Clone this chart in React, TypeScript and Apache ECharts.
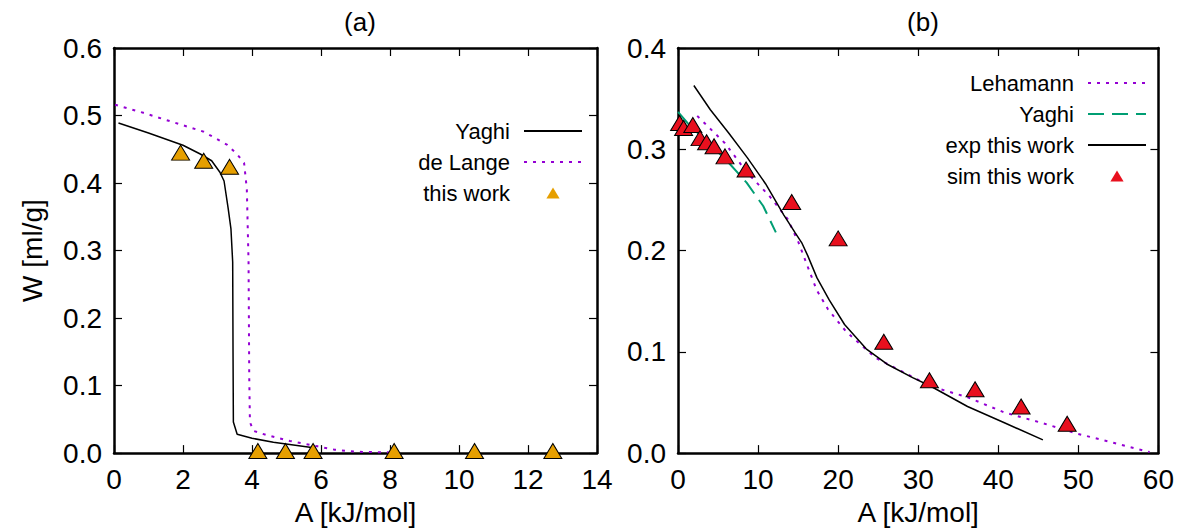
import React, { useEffect, useRef } from 'react';
import * as echarts from 'echarts';

// ---------- Panel (a) data ----------
const thisWorkA = [1.93, 2.6, 3.35, 4.17, 4.97, 5.77, 8.12, 10.45, 12.72];
const thisWorkW = [0.445, 0.433, 0.424, 0.003, 0.003, 0.003, 0.003, 0.003, 0.003];

const yaghiA = [0.13, 1.0, 2.0, 2.5, 2.83, 3.07, 3.19, 3.31, 3.39, 3.44, 3.45, 3.46, 3.57, 4.0, 4.62, 5.2, 5.78];
const yaghiW = [0.489, 0.474, 0.456, 0.443, 0.433, 0.416, 0.403, 0.362, 0.332, 0.283, 0.15, 0.046, 0.028, 0.022, 0.016, 0.012, 0.008];

const deLangeA = [0.03, 0.85, 1.91, 2.6, 3.27, 3.56, 3.77, 3.85, 3.9, 3.92, 3.94, 4.04, 4.4, 5.1, 5.9, 6.4, 7.0, 8.0];
const deLangeW = [0.516, 0.504, 0.487, 0.476, 0.457, 0.443, 0.43, 0.391, 0.283, 0.112, 0.046, 0.033, 0.027, 0.018, 0.01, 0.005, 0.002, 0.001];

// ---------- Panel (b) data ----------
const simA = [0.2, 0.7, 1.85, 2.75, 3.57, 4.5, 5.87, 8.5, 14.2, 20.0, 25.7, 31.4, 37.1, 42.85, 48.6];
const simW = [0.326, 0.321, 0.324, 0.311, 0.307, 0.303, 0.293, 0.28, 0.248, 0.212, 0.11, 0.072, 0.063, 0.046, 0.029];

const expA = [1.98, 4.04, 6.33, 8.63, 10.93, 13.22, 14.6, 15.5, 16.2, 17.36, 18.9, 20.8, 23.5, 26.07, 29.3, 31.57, 36.16, 40.76, 45.57];
const expW = [0.363, 0.339, 0.316, 0.292, 0.266, 0.235, 0.218, 0.207, 0.195, 0.173, 0.151, 0.127, 0.103, 0.088, 0.0745, 0.066, 0.046, 0.03, 0.013];

const lehA = [2.4, 5.86, 8.63, 11.4, 13.7, 15.05, 15.96, 17.32, 18.73, 21.0, 24.7, 28.37, 31.57, 36.2, 40.8, 45.35, 49.94, 54.5, 58.9];
const lehW = [0.333, 0.306, 0.277, 0.254, 0.231, 0.208, 0.189, 0.161, 0.142, 0.12, 0.094, 0.079, 0.066, 0.055, 0.04, 0.03, 0.019, 0.01, 0.001];

const yaghiBA = [0, 1.5, 3.58, 6.07, 8.57, 10.64, 12.22];
const yaghiBW = [0.337, 0.323, 0.308, 0.289, 0.267, 0.244, 0.218];

const FONT = '"Liberation Sans", Arial, Helvetica, sans-serif';
const TRI_ICON = 'path://M6 0 L12 10 L0 10 Z';

const zip = (a: number[], b: number[]) => a.map((x, i) => [x, b[i]]);

export default function App() {
  const ref = useRef<HTMLDivElement>(null);

  useEffect(() => {
    const chart = echarts.init(ref.current!, null, { renderer: 'svg' });

    const frame = { show: true, onZero: false, lineStyle: { color: '#000', width: 2.5 } };
    const tick = { show: true, inside: true, length: 8, lineStyle: { color: '#000', width: 1.2 } };
    const label = { fontSize: 28, color: '#000', fontFamily: FONT };

    const mkX = (grid: number, max: number, interval: number, top: boolean, name?: string) => ({
      type: 'value',
      gridIndex: grid,
      min: 0,
      max,
      interval,
      position: top ? 'top' : 'bottom',
      axisLine: frame,
      axisTick: tick,
      splitLine: { show: false },
      axisLabel: top ? { show: false } : { ...label, margin: 12 },
      name: top ? undefined : name,
      nameLocation: 'middle',
      nameGap: 42,
      nameTextStyle: { fontSize: 28, color: '#000', fontFamily: FONT },
    });
    const mkY = (grid: number, max: number, right: boolean, name?: string) => ({
      type: 'value',
      gridIndex: grid,
      min: 0,
      max,
      interval: 0.1,
      position: right ? 'right' : 'left',
      axisLine: frame,
      axisTick: tick,
      splitLine: { show: false },
      axisLabel: right
        ? { show: false }
        : { ...label, margin: 12, formatter: (v: number) => v.toFixed(1) },
      name: right ? undefined : name,
      nameLocation: 'middle',
      nameRotate: 90,
      nameGap: 68,
      nameTextStyle: { fontSize: 28, color: '#000', fontFamily: FONT },
    });

    const legendBase = {
      orient: 'vertical',
      align: 'right',
      padding: 0,
      itemWidth: 58,
      itemHeight: 11,
      itemGap: 9,
      selectedMode: false,
      symbolKeepAspect: true,
      textStyle: { fontSize: 22, color: '#000', fontFamily: FONT, padding: [0, 9, 0, 0] },
      itemStyle: { borderWidth: 0 },
    };
    const lineItem = (name: string) => ({ name, itemStyle: { opacity: 0 } });
    const triItem = (name: string) => ({ name, icon: TRI_ICON, symbolKeepAspect: true });

    chart.setOption({
      animation: false,
      backgroundColor: '#fff',
      title: [
        { text: '(a)', left: 355, top: 4, textAlign: 'center', textStyle: { fontSize: 26, fontWeight: 'normal', color: '#000', fontFamily: FONT } },
        { text: '(b)', left: 918, top: 4, textAlign: 'center', textStyle: { fontSize: 26, fontWeight: 'normal', color: '#000', fontFamily: FONT } },
      ],
      grid: [
        { left: 114, right: 580, top: 48, bottom: 75, containLabel: false },
        { left: 678, right: 18, top: 48, bottom: 75, containLabel: false },
      ],
      xAxis: [
        mkX(0, 14, 2, false, 'A [kJ/mol]'),
        mkX(0, 14, 2, true),
        mkX(1, 60, 10, false, 'A [kJ/mol]'),
        mkX(1, 60, 10, true),
      ],
      yAxis: [
        mkY(0, 0.6, false, 'W [ml/g]'),
        mkY(0, 0.6, true),
        mkY(1, 0.4, false),
        mkY(1, 0.4, true),
      ],
      legend: [
        {
          ...legendBase,
          right: 594,
          top: 120,
          data: [lineItem('Yaghi'), lineItem('de Lange'), triItem('this work')],
        },
        {
          ...legendBase,
          right: 30,
          top: 72,
          data: [
            lineItem('Lehamann'),
            lineItem('Yaghi (b)'),
            lineItem('exp this work'),
            triItem('sim this work'),
          ],
          formatter: (n: string) => n.replace(' (b)', ''),
        },
      ],
      series: [
        {
          name: 'Yaghi',
          type: 'line',
          xAxisIndex: 0,
          yAxisIndex: 0,
          data: zip(yaghiA, yaghiW),
          symbol: 'none',
          lineStyle: { color: '#000', width: 1.5 },
          itemStyle: { color: '#000' },
        },
        {
          name: 'de Lange',
          type: 'line',
          xAxisIndex: 0,
          yAxisIndex: 0,
          data: zip(deLangeA, deLangeW),
          symbol: 'none',
          lineStyle: { color: '#9400d3', width: 2, type: [3, 6] },
          itemStyle: { color: '#9400d3' },
        },
        {
          name: 'this work',
          type: 'scatter',
          xAxisIndex: 0,
          yAxisIndex: 0,
          data: zip(thisWorkA, thisWorkW),
          symbol: 'triangle',
          symbolSize: [18, 15],
          clip: false,
          itemStyle: { color: '#e69f00', borderColor: '#000', borderWidth: 1, opacity: 1 },
          z: 5,
        },
        {
          name: 'Lehamann',
          type: 'line',
          xAxisIndex: 2,
          yAxisIndex: 2,
          data: zip(lehA, lehW),
          symbol: 'none',
          lineStyle: { color: '#9400d3', width: 2, type: [3, 6] },
          itemStyle: { color: '#9400d3' },
        },
        {
          name: 'Yaghi (b)',
          type: 'line',
          xAxisIndex: 2,
          yAxisIndex: 2,
          data: zip(yaghiBA, yaghiBW),
          symbol: 'none',
          lineStyle: { color: '#009e73', width: 2, type: [16, 8] },
          itemStyle: { color: '#009e73' },
        },
        {
          name: 'exp this work',
          type: 'line',
          xAxisIndex: 2,
          yAxisIndex: 2,
          data: zip(expA, expW),
          symbol: 'none',
          lineStyle: { color: '#000', width: 1.5 },
          itemStyle: { color: '#000' },
        },
        {
          name: 'sim this work',
          type: 'scatter',
          xAxisIndex: 2,
          yAxisIndex: 2,
          data: zip(simA, simW),
          symbol: 'triangle',
          symbolSize: [18, 15],
          clip: false,
          itemStyle: { color: '#e8101e', borderColor: '#000', borderWidth: 1, opacity: 1 },
          z: 5,
        },
      ],
    });

    return () => chart.dispose();
  }, []);

  return (
    <div
      ref={ref}
      style={{ position: 'fixed', left: 0, top: 0, width: 1177, height: 531, background: '#fff' }}
    />
  );
}
